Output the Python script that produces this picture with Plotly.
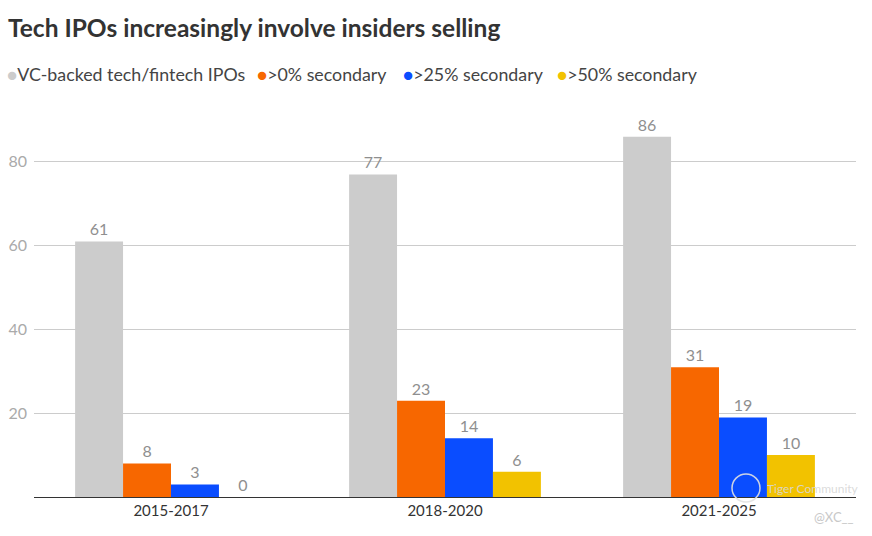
import plotly.graph_objects as go

categories = ["2015-2017", "2018-2020", "2021-2025"]
series_names = ["VC-backed tech/fintech IPOs", ">0% secondary", ">25% secondary", ">50% secondary"]
vc_backed = [61, 77, 86]
secondary_0 = [8, 23, 31]
secondary_25 = [3, 14, 19]
secondary_50 = [0, 6, 10]
y_ticks = [20, 40, 60, 80]

colors = ["#cccccc", "#f76700", "#0a4dff", "#f2c200"]
all_values = [vc_backed, secondary_0, secondary_25, secondary_50]

W, H = 872, 536
L, R, T, B = 34, 16, 99, 39
PW, PH = W - L - R, H - T - B

FONT = "Lato"

fig = go.Figure()
for name, vals, col in zip(series_names, all_values, colors):
    fig.add_trace(go.Bar(
        x=categories, y=vals, name=name, marker=dict(color=col, line=dict(width=0)),
        text=[str(v) for v in vals], textposition="outside",
        textfont=dict(family=FONT, size=16, color="#8f8f8f"),
        cliponaxis=False, showlegend=False,
    ))

# legend drawn as annotations (circle markers tight to text)
legend_x = [5, 255, 401, 555]
annotations = []
for name, col, px in zip(series_names, colors, legend_x):
    annotations.append(dict(
        xref="paper", yref="paper", x=(px - L) / PW, y=(H - B - 74) / PH,
        xanchor="left", yanchor="middle", showarrow=False,
        text=f"<span style='color:{col};font-size:17px'>●</span>{name}",
        font=dict(family=FONT, size=17.8, color="#444444"),
    ))

# watermark
annotations.append(dict(xref="paper", yref="paper", x=(765 - L) / PW, y=(H - B - 488) / PH,
                        xanchor="left", yanchor="middle", showarrow=False, text="Tiger Community",
                        font=dict(family=FONT, size=12, color="rgba(215,215,215,0.9)")))
annotations.append(dict(xref="paper", yref="paper", x=(856 - L) / PW, y=(H - B - 517) / PH,
                        xanchor="right", yanchor="middle", showarrow=False, text="@XC__",
                        font=dict(family=FONT, size=13, color="#c8c8c8")))

shapes = [dict(type="circle", xref="paper", yref="paper",
               x0=(732 - L) / PW, x1=(760 - L) / PW,
               y0=(H - B - 502) / PH, y1=(H - B - 474) / PH,
               line=dict(color="rgba(225,225,225,0.9)", width=1.5))]

fig.update_layout(
    width=W, height=H,
    margin=dict(l=L, r=R, t=T, b=B, autoexpand=False),
    paper_bgcolor="white", plot_bgcolor="white",
    barmode="group", bargap=0.3, bargroupgap=0,
    title=dict(text="<b>Tech IPOs increasingly involve insiders selling</b>",
               x=8 / W, xanchor="left", y=1 - 28 / H, yanchor="middle",
               font=dict(family=FONT, size=24.5, color="#333333")),
    font=dict(family=FONT),
    annotations=annotations, shapes=shapes,
    xaxis=dict(showline=True, linecolor="#333333", linewidth=1, ticks="",
               tickfont=dict(family=FONT, size=15, color="#333333"), showgrid=False),
    yaxis=dict(range=[0, 95], tickvals=y_ticks, showgrid=True, gridcolor="#cccccc",
               gridwidth=1, zeroline=False, ticks="", ticklabelstandoff=6,
               tickfont=dict(family=FONT, size=16, color="#aaaaaa")),
)

fig.write_html("out.html", post_script="document.body.style.margin='0';",
               config={"displayModeBar": False})
